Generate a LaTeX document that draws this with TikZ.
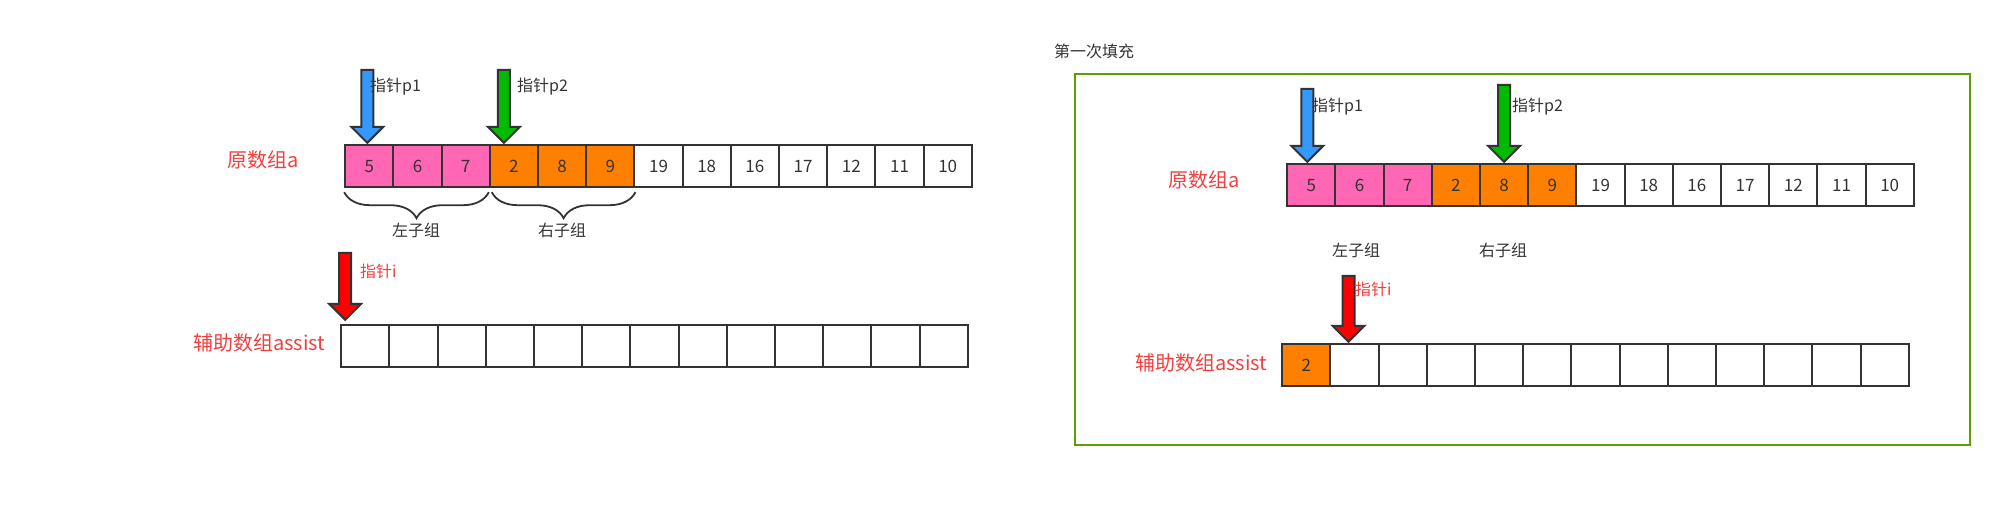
\documentclass[tikz,border=0pt]{standalone}
\usepackage{fontspec}
\setmainfont{Noto Sans CJK SC}
\usetikzlibrary{matrix,positioning,shapes.arrows,decorations.pathreplacing}
\definecolor{cellpink}{RGB}{255,102,180}
\definecolor{cellorange}{RGB}{255,128,0}
\definecolor{ptrblue}{RGB}{51,153,255}
\definecolor{ptrgreen}{RGB}{0,187,0}
\definecolor{ptrred}{RGB}{255,0,0}
\definecolor{edgegray}{RGB}{51,51,51}
\definecolor{labelred}{RGB}{240,64,64}
\definecolor{framegreen}{RGB}{90,160,0}
\definecolor{txtgray}{RGB}{51,51,51}
\tikzset{
  arr/.style={matrix of nodes, nodes in empty cells, column sep=-2pt, inner sep=0pt,
    nodes={draw=edgegray, line width=2pt, minimum width=48.2pt, minimum height=42pt,
      inner sep=0pt, font=\fontsize{17}{17}\selectfont, text=txtgray, anchor=center}},
  pk/.style={fill=cellpink},
  og/.style={fill=cellorange},
  ptr/.style={single arrow, draw=edgegray, line width=2pt, inner xsep=0pt, inner ysep=5pt,
    single arrow head extend=10pt, rotate=-90, anchor=tip, minimum height=#1},
  ptrtext/.style={font=\fontsize{16}{16}\selectfont, text=txtgray, anchor=west, inner sep=0pt},
  arrlabel/.style={font=\fontsize{20}{20}\selectfont, text=labelred, inner sep=0pt},
  grp/.style={font=\fontsize{16}{16}\selectfont, text=txtgray, inner sep=0pt},
  brc/.style={draw=edgegray, line width=1.8pt, decorate,
    decoration={brace, mirror, amplitude=26pt, raise=4pt}}
}
\begin{document}
\begin{tikzpicture}[x=1pt, y=-1pt]
  \useasboundingbox (0,0) rectangle (1992,512);
  % before merging
  \matrix (a) [arr, anchor=north west] at (344,144)
  {
    |[pk]| 5 & |[pk]| 6 & |[pk]| 7 & |[og]| 2 & |[og]| 8 & |[og]| 9 & 19 & 18 & 16 & 17 & 12 & 11 & 10 \\};
  \node[arrlabel] (la) at (263,160) {原数组a};
  \node[ptr=73pt, fill=ptrblue] (p1) at ([xshift=-2pt]a-1-1.north) {};
  \node[ptrtext] (tp1) at (370,87) {指针p1};
  \node[ptr=73pt, fill=ptrgreen] (p2) at ([xshift=-10pt]a-1-4.north) {};
  \node[ptrtext] (tp2) at (517,87) {指针p2};
  \draw[brc] (a-1-1.south west) -- ([xshift=-2pt]a-1-3.south east);
  \draw[brc] ([xshift=3pt]a-1-4.south west) -- (a-1-6.south east);
  \node[grp] (gl) at (416,230) {左子组};
  \node[grp] (gr) at (562,230) {右子组};
  \matrix (assist) [arr, anchor=north west] at (340,324)
  {
    & & & & & & & & & & & & \\};
  \node[arrlabel] (lb) at (259,343) {辅助数组assist};
  \node[ptr=67pt, fill=ptrred] (pi) at ([xshift=5pt,yshift=3pt]assist-1-1.north west) {};
  \node[ptrtext, text=labelred] (tpi) at (360,271) {指针i};
  % first fill
  \node[grp, anchor=west] (title) at (1054,51) {第一次填充};
  \draw[framegreen, line width=2.5pt] (1075,74) rectangle (1970,445);
  \matrix (a2) [arr, anchor=north west] at (1286,163)
  {
    |[pk]| 5 & |[pk]| 6 & |[pk]| 7 & |[og]| 2 & |[og]| 8 & |[og]| 9 & 19 & 18 & 16 & 17 & 12 & 11 & 10 \\};
  \node[arrlabel] (la2) at (1204,180) {原数组a};
  \node[ptr=73pt, fill=ptrblue] (q1) at ([xshift=-4pt]a2-1-1.north) {};
  \node[ptrtext] (tq1) at (1312,107) {指针p1};
  \node[ptr=77pt, fill=ptrgreen] (q2) at (a2-1-5.north) {};
  \node[ptrtext] (tq2) at (1512,107) {指针p2};
  \node[grp] (gl2) at (1356,250) {左子组};
  \node[grp] (gr2) at (1503,250) {右子组};
  \matrix (assist2) [arr, anchor=north west] at (1281,343)
  {
    |[og]| 2 & & & & & & & & & & & & \\};
  \node[arrlabel] (lb2) at (1201,363) {辅助数组assist};
  \node[ptr=66pt, fill=ptrred] (qi) at ([xshift=-6pt]assist2-1-2.north) {};
  \node[ptrtext, text=labelred] (tqi) at (1355,289) {指针i};
\end{tikzpicture}
\end{document}
